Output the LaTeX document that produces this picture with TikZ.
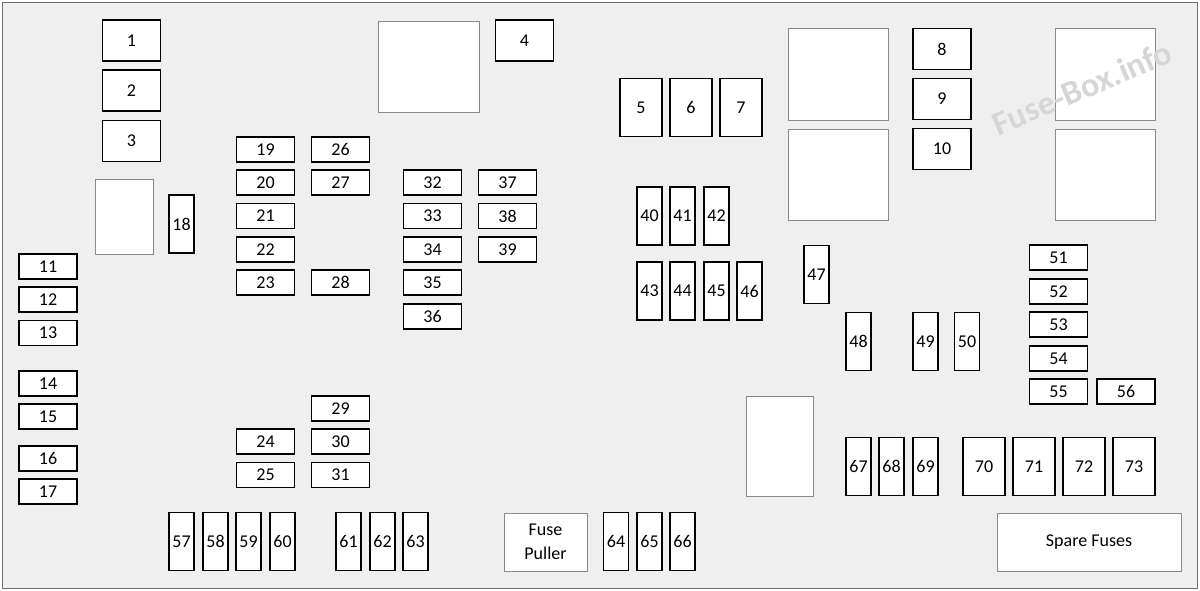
\documentclass[tikz,border=0pt]{standalone}
\usepackage{fontspec}
\setmainfont{Carlito}
\usepackage{tikz}

\definecolor{boxbg}{HTML}{EFEFEF}
\definecolor{frameline}{HTML}{6E6E6E}
\definecolor{blankline}{HTML}{8A8A8A}
\newcommand{\lab}{\fontsize{18}{24}\selectfont}
\newcommand{\wmfont}{\fontsize{34}{34}\selectfont\bfseries}

\tikzset{
  fuse/.style={draw=black, line width=1.2pt, fill=white, inner sep=0pt, font=\lab},
  hfuse/.style={fuse, minimum width=58pt, minimum height=25pt},
  vfuse/.style={fuse, minimum width=25pt, minimum height=58pt},
  mfuse/.style={fuse, minimum width=58pt, minimum height=41pt},
  jfuse/.style={fuse, minimum width=42pt, minimum height=58pt},
  blank/.style={draw=blankline, line width=0.9pt, fill=white, inner sep=0pt, font=\lab, align=center}
}

\begin{document}
\begin{tikzpicture}[x=1pt,y=-1pt]
\useasboundingbox (0,0) rectangle (1200,591);
\draw[draw=frameline, line width=1pt, fill=boxbg] (2,3) rectangle (1197,588);
% relays and empty cavities
\node[blank, minimum width=58pt, minimum height=75pt] (relA) at (124,216.5) {};
\node[blank, minimum width=101pt, minimum height=91pt] (relB) at (428.5,66.5) {};
\node[blank, minimum width=100pt, minimum height=92pt] (relC) at (838,74) {};
\node[blank, minimum width=100pt, minimum height=91pt] (relD) at (838,174.5) {};
\node[blank, minimum width=100pt, minimum height=92pt] (relE) at (1105,74) {};
\node[blank, minimum width=100pt, minimum height=91pt] (relF) at (1105,174.5) {};
\node[blank, minimum width=67pt, minimum height=100pt] (relG) at (779.5,446) {};
\node[blank, minimum width=83pt, minimum height=58pt] (puller) at (545.5,542) {Fuse\\Puller};
\node[blank, minimum width=184pt, minimum height=58pt] (spare) at (1089,542) {Spare Fuses};
% large fuses
\node[mfuse] (f1) at (131.5,40.5) {1};
\node[mfuse] (f2) at (131.5,90.5) {2};
\node[mfuse] (f3) at (131.5,141) {3};
\node[mfuse] (f4) at (524.5,40.5) {4};
\node[jfuse] (f5) at (641,107.5) {5};
\node[jfuse] (f6) at (691,107.5) {6};
\node[jfuse] (f7) at (741,107.5) {7};
\node[mfuse] (f8) at (942,49) {8};
\node[mfuse] (f9) at (942,99) {9};
\node[mfuse] (f10) at (942,149) {10};
% left column
\node[hfuse] (f11) at (48,266.5) {11};
\node[hfuse] (f12) at (48,299.5) {12};
\node[hfuse] (f13) at (48,333) {13};
\node[hfuse] (f14) at (48,383.5) {14};
\node[hfuse] (f15) at (48,416.5) {15};
\node[hfuse] (f16) at (48,458.5) {16};
\node[hfuse] (f17) at (48,491.5) {17};
\node[vfuse] (f18) at (181.5,224) {18};
% mini fuses, left block
\node[hfuse] (f19) at (265.5,149.5) {19};
\node[hfuse] (f20) at (265.5,182.5) {20};
\node[hfuse] (f21) at (265.5,216) {21};
\node[hfuse] (f22) at (265.5,249.5) {22};
\node[hfuse] (f23) at (265.5,282.5) {23};
\node[hfuse] (f24) at (265.5,441.5) {24};
\node[hfuse] (f25) at (265.5,475) {25};
\node[hfuse] (f26) at (340.5,149.5) {26};
\node[hfuse] (f27) at (340.5,182.5) {27};
\node[hfuse] (f28) at (340.5,282.5) {28};
\node[hfuse] (f29) at (340.5,408.5) {29};
\node[hfuse] (f30) at (340.5,441.5) {30};
\node[hfuse] (f31) at (340.5,475) {31};
\node[hfuse] (f32) at (432.5,182.5) {32};
\node[hfuse] (f33) at (432.5,216) {33};
\node[hfuse] (f34) at (432.5,249.5) {34};
\node[hfuse] (f35) at (432.5,282.5) {35};
\node[hfuse] (f36) at (432.5,316.5) {36};
\node[hfuse] (f37) at (507.5,182.5) {37};
\node[hfuse] (f38) at (507.5,216) {38};
\node[hfuse] (f39) at (507.5,249.5) {39};
% mini fuses, middle block
\node[vfuse] (f40) at (649.5,216) {40};
\node[vfuse] (f41) at (682.5,216) {41};
\node[vfuse] (f42) at (716.5,216) {42};
\node[vfuse] (f43) at (649.5,291) {43};
\node[vfuse] (f44) at (682.5,291) {44};
\node[vfuse] (f45) at (716.5,291) {45};
\node[vfuse] (f46) at (749.5,291) {46};
\node[vfuse] (f47) at (816.5,274.5) {47};
\node[vfuse] (f48) at (858.5,341.5) {48};
\node[vfuse] (f49) at (925.5,341.5) {49};
\node[vfuse] (f50) at (967,341.5) {50};
% right column
\node[hfuse] (f51) at (1058.5,257.5) {51};
\node[hfuse] (f52) at (1058.5,291.5) {52};
\node[hfuse] (f53) at (1058.5,324.5) {53};
\node[hfuse] (f54) at (1058.5,358.5) {54};
\node[hfuse] (f55) at (1058.5,391.5) {55};
\node[hfuse] (f56) at (1126,391.5) {56};
% bottom row
\node[vfuse] (f57) at (181.5,541.5) {57};
\node[vfuse] (f58) at (215.5,541.5) {58};
\node[vfuse] (f59) at (248.5,541.5) {59};
\node[vfuse] (f60) at (282.5,541.5) {60};
\node[vfuse] (f61) at (348.5,541.5) {61};
\node[vfuse] (f62) at (382.5,541.5) {62};
\node[vfuse] (f63) at (415.5,541.5) {63};
\node[vfuse] (f64) at (616,541.5) {64};
\node[vfuse] (f65) at (649.5,541.5) {65};
\node[vfuse] (f66) at (682.5,541.5) {66};
\node[vfuse] (f67) at (858.5,466.5) {67};
\node[vfuse] (f68) at (891.5,466.5) {68};
\node[vfuse] (f69) at (925.5,466.5) {69};
\node[jfuse] (f70) at (984,466.5) {70};
\node[jfuse] (f71) at (1034,466.5) {71};
\node[jfuse] (f72) at (1084,466.5) {72};
\node[jfuse] (f73) at (1134,466.5) {73};
% watermark
\node[rotate=23, text=black!16, font=\wmfont] (wmark) at (1082,88) {Fuse-Box.info};
\end{tikzpicture}
\end{document}
